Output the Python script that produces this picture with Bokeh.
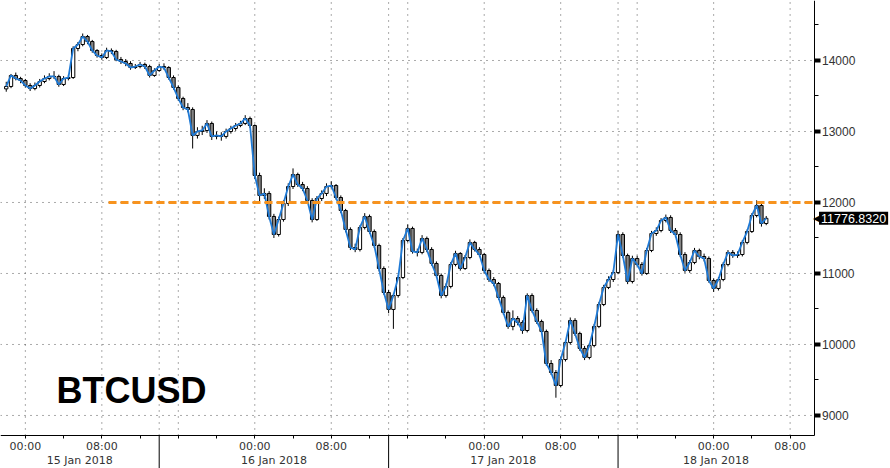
from bokeh.plotting import figure
from bokeh.models import FixedTicker, Label, ColumnDataSource, Range1d
from bokeh.embed import file_html
from bokeh.resources import INLINE
from bokeh.core.properties import value

# ---------------- data (BTCUSD, 30-minute bars, hours from 15 Jan 2018 00:00) ----------------
start_hour = -2.0
bar_step_hours = 0.5
first_open = 13600

closes = [13634, 13789, 13746, 13718, 13648, 13605, 13648, 13704, 13746, 13775,
          13775, 13662, 13746, 13760, 14169, 14225, 14338, 14267, 14141, 14070,
          14042, 14141, 14127, 14014, 13986, 13958, 13901, 13915, 13944, 13915,
          13789, 13859, 13915, 13901, 13760, 13620, 13465, 13338, 13310, 12944,
          13000, 13014, 13113, 12930, 12944, 12930, 13000, 13042, 13084, 13113,
          13183, 13084, 12380, 12098, 12127, 11803, 11549, 11760, 11986, 12225,
          12394, 12253, 12197, 12028, 11760, 12056, 12127, 12225, 12239, 12070,
          11887, 11620, 11366, 11338, 11648, 11803, 11591, 11394, 11070, 10732,
          10493, 10690, 10943, 11465, 11634, 11310, 11296, 11493, 11338, 11141,
          10972, 10690, 10817, 11127, 11282, 11070, 11225, 11437, 11338, 11267,
          11042, 10915, 10859, 10662, 10451, 10254, 10366, 10310, 10197, 10690,
          10479, 10324, 10183, 9732, 9605, 9422, 9788, 10028, 10338, 10155,
          9944, 9817, 9986, 10254, 10563, 10803, 10915, 11014, 11549, 11253,
          10887, 11211, 11127, 11000, 11324, 11563, 11605, 11746, 11789, 11605,
          11549, 11267, 11042, 11155, 11324, 11239, 11211, 10901, 10789, 10915,
          11127, 11296, 11253, 11267, 11437, 11591, 11817, 11958, 11704, 11776.832]

highs = [13700, 13810, 13830, 13770, 13740, 13680, 13690, 13740, 13790, 13820,
         13850, 13800, 13780, 13800, 14200, 14260, 14380, 14360, 14290, 14160,
         14100, 14180, 14170, 14150, 14050, 14020, 13990, 13950, 13980, 13970,
         13940, 13890, 13950, 13960, 13920, 13790, 13650, 13490, 13400, 13340,
         13060, 13080, 13160, 13140, 13000, 12990, 13040, 13080, 13120, 13150,
         13230, 13210, 13100, 12420, 12200, 12160, 11840, 11800, 12030, 12270,
         12480, 12420, 12290, 12230, 12060, 12090, 12170, 12270, 12300, 12260,
         12100, 11910, 11650, 11420, 11680, 11850, 11830, 11620, 11420, 11100,
         10770, 10720, 10980, 11500, 11690, 11660, 11350, 11540, 11520, 11370,
         11170, 11000, 10860, 11160, 11320, 11300, 11260, 11480, 11460, 11370,
         11290, 11070, 10950, 10880, 10690, 10480, 10480, 10400, 10340, 10720,
         10720, 10510, 10350, 10210, 9780, 9640, 9820, 10060, 10380, 10370,
         10180, 9980, 10020, 10290, 10600, 10840, 10960, 11050, 11600, 11580,
         11280, 11250, 11250, 11160, 11360, 11600, 11650, 11780, 11830, 11820,
         11640, 11580, 11300, 11190, 11360, 11350, 11280, 11240, 10930, 10950,
         11160, 11330, 11330, 11310, 11470, 11620, 11850, 12030, 11990, 11810]

lows = [13560, 13610, 13720, 13680, 13620, 13570, 13580, 13620, 13680, 13720,
        13740, 13630, 13640, 13720, 13740, 14130, 14200, 14230, 14110, 14040,
        14010, 14020, 14090, 13990, 13950, 13920, 13870, 13880, 13890, 13880,
        13760, 13770, 13840, 13870, 13730, 13590, 13430, 13300, 13270, 12760,
        12900, 12950, 12980, 12880, 12890, 12870, 12900, 12970, 13010, 13060,
        13090, 13050, 12330, 12020, 12050, 11760, 11500, 11520, 11730, 11950,
        12190, 12220, 12160, 11990, 11720, 11740, 12020, 12090, 12200, 12040,
        11850, 11580, 11330, 11300, 11310, 11620, 11560, 11360, 11030, 10700,
        10440, 10220, 10660, 10920, 11440, 11280, 11240, 11270, 11300, 11110,
        10940, 10650, 10660, 10790, 11100, 11040, 11050, 11200, 11310, 11230,
        11000, 10880, 10820, 10630, 10420, 10220, 10200, 10270, 10150, 10170,
        10450, 10290, 10150, 9700, 9570, 9250, 9400, 9760, 10000, 10120,
        9910, 9780, 9790, 9960, 10230, 10540, 10780, 10880, 10990, 11220,
        10850, 10860, 11100, 10970, 10980, 11300, 11530, 11580, 11720, 11570,
        11510, 11230, 11010, 11010, 11130, 11200, 11170, 10870, 10740, 10760,
        10890, 11100, 11220, 11220, 11240, 11410, 11570, 11790, 11660, 11680]

resistance_level = 12000
resistance_start_hour = 8.7

y_ticks = [9000, 10000, 11000, 12000, 13000, 14000]
y_minor_ticks = [9500, 10500, 11500, 12500, 13500, 14500]

time_tick_hours = [0, 8, 16, 24, 32, 40, 48, 56, 64, 72, 80]
time_minor_hours = [-4, 4, 12, 20, 28, 36, 44, 52, 60, 68, 76]
time_tick_labels = ["00:00", "08:00", "", "00:00", "08:00", "", "00:00", "08:00", "", "00:00", "08:00"]
day_separators = [14, 38, 62]
day_labels = ["15 Jan 2018", "16 Jan 2018", "17 Jan 2018", "18 Jan 2018"]
symbol = "BTCUSD"

# ---------------- layout constants (view, not data) ----------------
x_start, x_end = -2.6, 90.5        # whole canvas width
price_axis_hour = 82.5             # where the price axis sits
y_min, y_max = 8253, 14845         # whole canvas height
time_axis_level = 8718             # where the time axis sits
date_label_level = 8370

# ---------------- derived table ----------------
n = len(closes)
hours = [start_hour + bar_step_hours * i for i in range(n)]
opens = [first_open] + closes[:-1]
rising = [c >= o for o, c in zip(opens, closes)]
src = ColumnDataSource(dict(
    x=hours, open=opens, close=closes, high=highs, low=lows,
    top=[max(o, c) for o, c in zip(opens, closes)],
    bottom=[min(o, c) for o, c in zip(opens, closes)],
    fill=["white" if r else "#858585" for r in rising],
))

FONT = "DejaVu Sans"

p = figure(width=890, height=468, output_backend="svg", toolbar_location=None,
           x_range=Range1d(x_start, x_end), y_range=Range1d(y_min, y_max),
           y_axis_location="right", min_border=0)
p.outline_line_color = None
p.background_fill_color = "white"
p.border_fill_color = "white"
p.xgrid.visible = False
p.ygrid.visible = False

# dotted grid, limited to the plotting area
vgrid = time_tick_hours + day_separators
p.segment(x0=vgrid, y0=[time_axis_level] * len(vgrid), x1=vgrid, y1=[y_max] * len(vgrid),
          line_color="#555555", line_dash="1 5", line_width=1)
p.segment(x0=[x_start] * len(y_ticks), y0=y_ticks, x1=[price_axis_hour] * len(y_ticks), y1=y_ticks,
          line_color="#555555", line_dash="1 5", line_width=1)
# solid day separators below the time axis
p.segment(x0=day_separators, y0=[y_min] * len(day_separators), x1=day_separators,
          y1=[time_axis_level] * len(day_separators), line_color="black", line_width=1)

# right price axis
ya = p.yaxis[0]
ya.fixed_location = price_axis_hour
ya.bounds = (time_axis_level, y_max)
ya.ticker = FixedTicker(ticks=y_ticks, minor_ticks=y_minor_ticks)
ya.axis_line_color = "black"
ya.major_tick_line_color = "black"
ya.major_tick_line_width = 4
ya.major_tick_out = 6
ya.major_tick_in = 0
ya.minor_tick_line_color = "black"
ya.minor_tick_out = 4
ya.minor_tick_in = 0
ya.major_label_standoff = 2
ya.major_label_text_font = "Liberation Sans"
ya.major_label_text_font_size = "12px"
ya.major_label_text_color = "#333333"

# bottom time axis
xa = p.xaxis[0]
xa.fixed_location = time_axis_level
xa.bounds = (x_start, price_axis_hour)
xa.ticker = FixedTicker(ticks=time_tick_hours, minor_ticks=time_minor_hours)
xa.major_label_overrides = {h: lab for h, lab in zip(time_tick_hours, time_tick_labels)}
xa.axis_line_color = "black"
xa.major_tick_out = 3
xa.major_tick_in = 0
xa.minor_tick_out = 3
xa.minor_tick_in = 0
xa.major_tick_line_color = "black"
xa.minor_tick_line_color = "black"
xa.major_label_standoff = 2
xa.major_label_text_font = FONT
xa.major_label_text_font_size = "11px"
xa.major_label_text_color = "#333333"

# date labels centred between separators
bounds = [x_start] + day_separators + [price_axis_hour]
day_centers = [(a + b) / 2 for a, b in zip(bounds[:-1], bounds[1:])]
p.text(x=day_centers, y=[date_label_level] * len(day_centers), text=day_labels,
       text_font=value(FONT), text_font_size="11px", text_color="#333333",
       text_align="center", text_baseline="middle")

# candles
p.segment(x0="x", y0="low", x1="x", y1="high", source=src, line_color="black", line_width=1)
p.vbar(x="x", width=bar_step_hours * 0.7, top="top", bottom="bottom", source=src,
       fill_color="fill", line_color="black", line_width=1)
# close line
p.line(hours, closes, line_color="#1f7ad6", line_width=1.8)

# resistance line
p.line([resistance_start_hour, price_axis_hour], [resistance_level, resistance_level],
       line_color="#f7931e", line_width=3, line_dash="8 4")

# last value tag
last_txt = f"{closes[-1]:.4f}"
p.add_layout(Label(x=price_axis_hour, y=closes[-1], x_offset=-1, text="\u25c0", text_color="black",
                   text_font=FONT, text_font_size="12px", text_baseline="middle",
                   text_align="left"))
p.add_layout(Label(x=price_axis_hour, y=closes[-1], x_offset=5, text=last_txt, text_color="white",
                   text_font="Liberation Sans", text_font_size="12.5px", text_baseline="middle",
                   text_align="left", background_fill_color="black", padding=2))

# symbol
p.add_layout(Label(x=11.1, y=9352, text=symbol, text_color="black",
                   text_font="Liberation Sans", text_font_style="bold", text_font_size="36px",
                   text_align="center", text_baseline="middle"))

open("out.html", "w").write(file_html(p, INLINE))
